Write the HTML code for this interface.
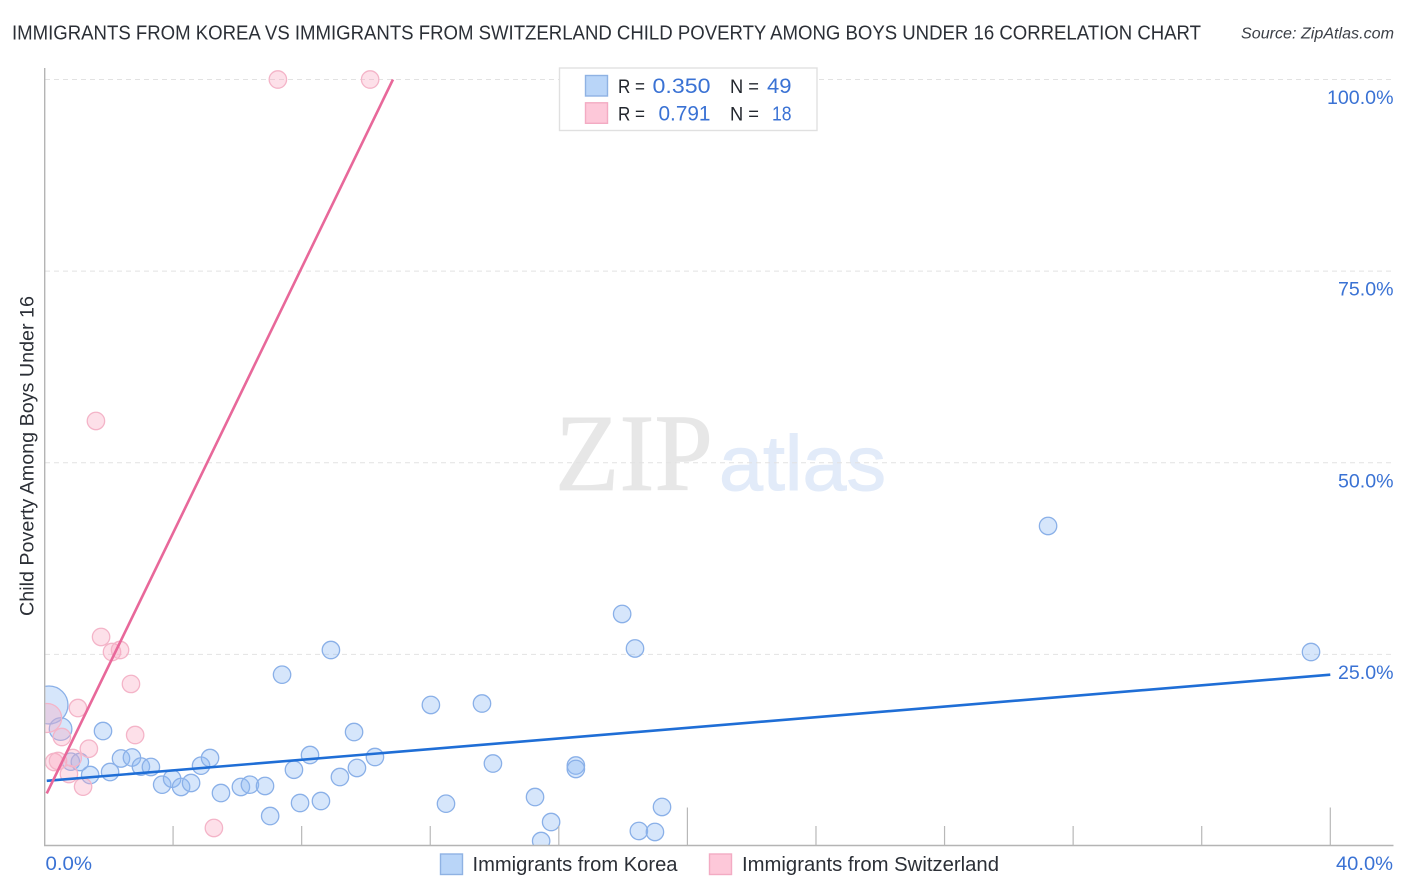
<!DOCTYPE html>
<html lang="en">
<head>
<meta charset="utf-8">
<title>Immigrants from Korea vs Immigrants from Switzerland Child Poverty Among Boys Under 16 Correlation Chart</title>
<style>
html,body{margin:0;padding:0;background:#fff;}
svg{display:block;font-family:"Liberation Sans",sans-serif;}
</style>
</head>
<body>
<svg id="chart" xmlns="http://www.w3.org/2000/svg" width="1406" height="892" viewBox="0 0 1406 892">
  <defs>
    <clipPath id="plot-clip"><rect x="45.5" y="60" width="1350" height="785"/></clipPath>
  </defs>
  <rect x="0" y="0" width="1406" height="892" fill="#ffffff"/>
  <text x="12" y="39.5" font-size="20" fill="#2b2f36" textLength="1189" lengthAdjust="spacingAndGlyphs">IMMIGRANTS FROM KOREA VS IMMIGRANTS FROM SWITZERLAND CHILD POVERTY AMONG BOYS UNDER 16 CORRELATION CHART</text>
  <text x="1241" y="38.5" font-size="15.5" font-style="italic" fill="#3c4048" textLength="153" lengthAdjust="spacingAndGlyphs">Source: ZipAtlas.com</text>

  <g>
    <text x="555" y="490" font-family="'Liberation Serif',serif" font-size="110" fill="#e7e7e7" stroke="#e7e7e7" stroke-width="0.8" textLength="158" lengthAdjust="spacingAndGlyphs">ZIP</text>
    <text x="719" y="490" font-size="78" fill="#e2ebf9" stroke="#e2ebf9" stroke-width="1" textLength="167" lengthAdjust="spacingAndGlyphs">atlas</text>
  </g>

  <g id="grid"></g>
  <g id="y-labels"></g>
  <g id="points" clip-path="url(#plot-clip)"></g>
  <rect x="0" y="660" width="44" height="90" fill="#ffffff"/>
  <g id="axes"></g>
  <g id="trends"></g>

  <text transform="translate(33.5,616) rotate(-90)" font-size="19" fill="#2b2f36" textLength="320" lengthAdjust="spacingAndGlyphs">Child Poverty Among Boys Under 16</text>
  <text x="45.5" y="870" font-size="19.5" fill="#3a72d4" textLength="46.5" lengthAdjust="spacingAndGlyphs">0.0%</text>
  <text x="1336" y="870" font-size="19.5" fill="#3a72d4" textLength="57" lengthAdjust="spacingAndGlyphs">40.0%</text>

  <g>
    <rect x="559.5" y="68" width="257.5" height="62.5" fill="#ffffff" stroke="#e0e0e0" stroke-width="1.4"/>
    <rect x="585.5" y="75.5" width="22" height="20.5" fill="#b9d5f8" stroke="#8fb2e3" stroke-width="1.4"/>
    <rect x="585.5" y="102.8" width="22" height="20.5" fill="#fdc8d9" stroke="#f3abc3" stroke-width="1.4"/>
    <text x="618" y="93" font-size="19.5" fill="#23272e" textLength="27" lengthAdjust="spacingAndGlyphs">R =</text>
    <text x="652.5" y="93" font-size="21" fill="#3a72d4" textLength="58" lengthAdjust="spacingAndGlyphs">0.350</text>
    <text x="730" y="93" font-size="19.5" fill="#23272e" textLength="29" lengthAdjust="spacingAndGlyphs">N =</text>
    <text x="767" y="93" font-size="21" fill="#3a72d4" textLength="24.5" lengthAdjust="spacingAndGlyphs">49</text>
    <text x="618" y="120.5" font-size="19.5" fill="#23272e" textLength="27" lengthAdjust="spacingAndGlyphs">R =</text>
    <text x="658.5" y="120.5" font-size="21" fill="#3a72d4" textLength="52" lengthAdjust="spacingAndGlyphs">0.791</text>
    <text x="730" y="120.5" font-size="19.5" fill="#23272e" textLength="29" lengthAdjust="spacingAndGlyphs">N =</text>
    <text x="772" y="120.5" font-size="20" fill="#3a72d4" textLength="19.5" lengthAdjust="spacingAndGlyphs">18</text>
  </g>

  <g>
    <rect x="440.5" y="854" width="22" height="20.5" fill="#b9d5f8" stroke="#8fb2e3" stroke-width="1.4"/>
    <text x="472.5" y="871" font-size="20" fill="#2b2f36" textLength="205" lengthAdjust="spacingAndGlyphs">Immigrants from Korea</text>
    <rect x="709.5" y="854" width="22" height="20.5" fill="#fdc8d9" stroke="#f3abc3" stroke-width="1.4"/>
    <text x="742" y="871" font-size="20" fill="#2b2f36" textLength="257" lengthAdjust="spacingAndGlyphs">Immigrants from Switzerland</text>
  </g>
</svg>
<script>
const koreaX = [0.14,0.50,1.82,0.82,1.10,1.42,2.04,2.38,2.72,3.00,3.31,3.66,3.97,4.25,4.56,4.87,5.15,5.49,6.11,6.39,6.86,7.02,7.39,7.76,7.95,8.26,8.60,8.91,9.19,9.63,9.72,10.28,12.02,13.61,13.95,12.49,15.26,15.76,15.45,16.53,16.53,18.49,18.99,19.21,18.37,17.97,31.22,39.40];
const koreaY = [18.40,15.26,15.00,11.00,10.96,9.26,9.65,11.42,11.55,10.36,10.31,8.00,8.78,7.70,8.22,10.48,11.48,6.91,7.70,8.00,7.83,3.91,22.35,9.95,5.61,11.87,5.87,25.57,9.00,14.87,10.18,11.61,18.40,18.59,10.76,5.52,6.39,3.13,0.65,10.50,10.05,1.96,1.83,5.09,25.77,30.27,41.75,25.31];
const koreaWeight = [2.18,1.3,1,1,1,1,1,1,1,1,1,1,1,1,1,1,1,1,1,1,1,1,1,1,1,1,1,1,1,1,1,1,1,1,1,1,1,1,1,1,1,1,1,1,1,1,1,1];
const swissX = [0.08,7.26,10.13,1.60,1.76,2.10,2.35,2.69,1.04,2.82,1.38,0.54,0.30,0.42,0.88,0.76,1.20,5.27];
const swissY = [16.70,100,100,55.45,27.27,25.31,25.57,21.14,18.00,14.48,12.69,14.22,10.96,11.09,11.48,9.39,7.74,2.35];
const swissWeight = [1.67,1,1,1,1,1,1,1,1,1,1,1,1,1,1,1,1,1];
const koreaTrendX = [0.07,40];
const koreaTrendY = [8.5,22.35];
const swissTrendX = [0.07,10.84];
const swissTrendY = [6.85,100];
const yTicks = [100,75,50,25];
const yTickLabels = ["100.0%","75.0%","50.0%","25.0%"];
const xTicks = [4,8,12,16,20,24,28,32,36,40];
const xMajorTicks = [20,40];

const NS = 'http://www.w3.org/2000/svg';
const xScale = v => 44.5 + v * 32.145;
const yScale = v => 846 - v * 7.665;

function make(tag, attrs, parent) {
  const el = document.createElementNS(NS, tag);
  for (const k in attrs) el.setAttribute(k, attrs[k]);
  parent.appendChild(el);
  return el;
}

const grid = document.getElementById('grid');
const yLabels = document.getElementById('y-labels');
yTicks.forEach((t, i) => {
  const line = make('line', {x1: 45, x2: 1393, y1: yScale(t), y2: yScale(t), stroke: '#e2e2e2', 'stroke-width': 1, 'stroke-dasharray': '5 4'}, grid);
  
  
  const label = make('text', {x: 1393.5, y: yScale(t) + 24.5, 'text-anchor': 'end', 'font-size': 19.5, fill: '#3a72d4'}, yLabels);
  label.setAttribute('textLength', t === 100 ? 66.5 : 55.5);
  label.setAttribute('lengthAdjust', 'spacingAndGlyphs');
  label.textContent = yTickLabels[i];
  
  
});

const axes = document.getElementById('axes');
const yAxis = make('line', {x1: 44.7, x2: 44.7, y1: 68, y2: 846, stroke: '#b4b4b4', 'stroke-width': 1.4}, axes);


const xAxis = make('line', {x1: 44, x2: 1393.5, y1: 845.5, y2: 845.5, stroke: '#b4b4b4', 'stroke-width': 1.4}, axes);


xTicks.forEach(t => {
  const top = xMajorTicks.includes(t) ? 807.5 : 826;
  const tick = make('line', {x1: xScale(t), x2: xScale(t), y1: top, y2: 845.5, stroke: '#b8b8b8', 'stroke-width': 1.2}, axes);
  
  
});

const points = document.getElementById('points');
koreaX.forEach((x, i) => {
  const c = make('circle', {cx: xScale(x), cy: yScale(koreaY[i]), r: 8.7 * koreaWeight[i], fill: 'rgba(142,187,243,0.36)', stroke: '#8ab0e8', 'stroke-width': 1.3}, points);
  
  
});
swissX.forEach((x, i) => {
  const c = make('circle', {cx: xScale(x), cy: yScale(swissY[i]), r: 8.7 * swissWeight[i], fill: 'rgba(250,170,195,0.36)', stroke: '#f4b4c8', 'stroke-width': 1.3}, points);
  
  
});

const trends = document.getElementById('trends');
const koreaLine = make('line', {x1: xScale(koreaTrendX[0]), y1: yScale(koreaTrendY[0]), x2: xScale(koreaTrendX[1]), y2: yScale(koreaTrendY[1]), stroke: '#1f6ed6', 'stroke-width': 2.6}, trends);


const swissLine = make('line', {x1: xScale(swissTrendX[0]), y1: yScale(swissTrendY[0]), x2: xScale(swissTrendX[1]), y2: yScale(swissTrendY[1]), stroke: '#e8689a', 'stroke-width': 2.6}, trends);


</script>
</body>
</html>
